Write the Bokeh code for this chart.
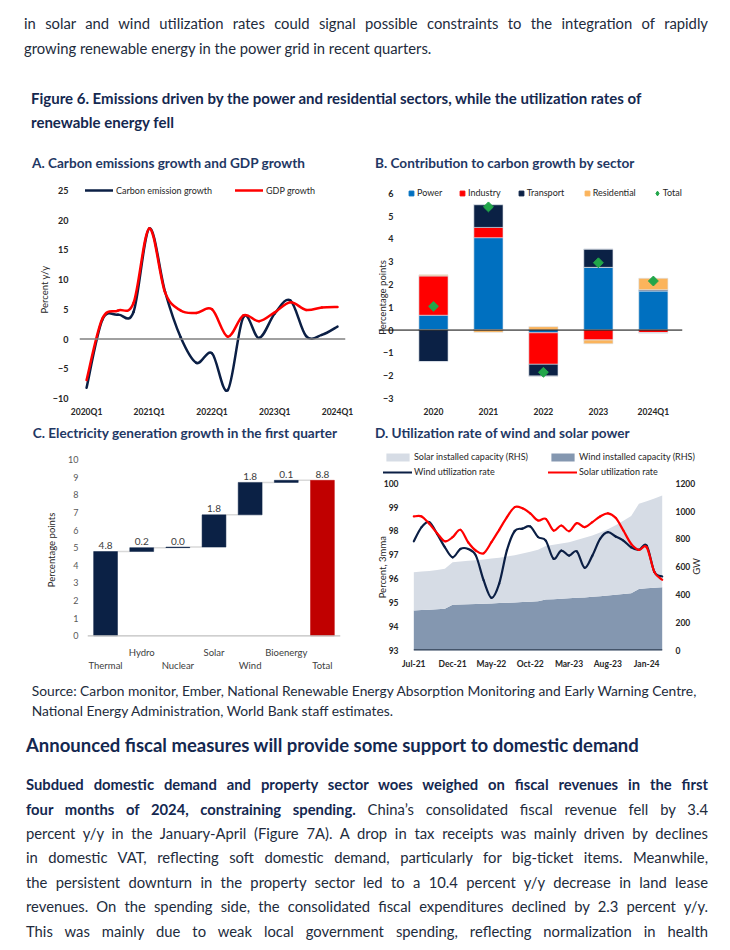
import math
from bokeh.plotting import figure
from bokeh.models import (ColumnDataSource, Span, Legend, LegendItem, Label,
                          FixedTicker, LinearAxis, Range1d, Div)
from bokeh.layouts import column, row
from bokeh.embed import file_html
from bokeh.resources import INLINE
from bokeh.core.properties import value

FONT = "Lato"
TITLE_BLUE = "#1F3864"
TEXT_DARK = "#262626"
NAVY = "#0B1F45"
RED = "#FF0000"

# ---------------- Panel A data (percent y/y)
quarters = ["2020Q1", "2020Q2", "2020Q3", "2020Q4", "2021Q1", "2021Q2", "2021Q3", "2021Q4",
            "2022Q1", "2022Q2", "2022Q3", "2022Q4", "2023Q1", "2023Q2", "2023Q3", "2023Q4", "2024Q1"]
carbon_growth = [-8.2, 3.2, 4.1, 4.6, 18.6, 8.0, 0.3, -4.0, -2.4, -8.6, 3.7, 0.2, 4.3, 6.5, 0.5, 0.7, 2.1]
gdp_growth = [-6.9, 3.4, 4.8, 6.1, 18.6, 7.9, 4.8, 4.4, 5.0, 0.4, 4.0, 3.0, 4.5, 6.2, 4.9, 5.3, 5.4]

# ---------------- Panel B data (percentage points)
years_B = ["2020", "2021", "2022", "2023", "2024Q1"]
power_B = [0.65, 4.05, -0.12, 2.75, 1.72]
industry_B = [1.73, 0.45, -1.38, -0.44, -0.12]
transport_B = [-1.38, 1.00, -0.52, 0.80, 0.05]
residential_B = [0.04, -0.10, 0.15, -0.16, 0.50]
total_B = [1.04, 5.40, -1.85, 2.95, 2.15]
sectors_B = ["Power", "Industry", "Transport", "Residential"]
sector_colors_B = ["#0070C0", "#FF0000", "#0B2145", "#FBB45C"]

# ---------------- Panel C data (percentage points)
sources_C = ["Thermal", "Hydro", "Nuclear", "Solar", "Wind", "Bioenergy"]
growth_C = [4.78, 0.22, 0.03, 1.83, 1.84, 0.12]
total_name_C = "Total"
total_C = 8.82

# ---------------- Panel D data
months_D = ["Jul-21", "Aug-21", "Sep-21", "Oct-21", "Nov-21", "Dec-21",
            "Jan-22", "Feb-22", "Mar-22", "Apr-22", "May-22", "Jun-22", "Jul-22", "Aug-22",
            "Sep-22", "Oct-22", "Nov-22", "Dec-22",
            "Jan-23", "Feb-23", "Mar-23", "Apr-23", "May-23", "Jun-23", "Jul-23", "Aug-23",
            "Sep-23", "Oct-23", "Nov-23", "Dec-23", "Jan-24", "Feb-24", "Mar-24"]
wind_util_D = [97.57, 98.16, 98.37, 97.88, 97.32, 96.90, 97.25, 97.25, 96.97, 95.93, 95.20,
               95.80, 97.20, 98.00, 98.10, 98.19, 97.75, 97.60, 96.84, 97.18, 96.97, 97.15,
               96.46, 96.97, 97.67, 97.95, 97.77, 97.60, 97.32, 97.21, 97.39, 96.28, 96.10]
solar_util_D = [98.61, 98.61, 98.30, 97.91, 97.57, 97.74, 98.05, 97.53, 97.18, 97.07, 97.53,
                98.05, 98.58, 99.00, 98.95, 98.74, 98.44, 98.51, 98.02, 98.23, 97.99, 98.33,
                98.16, 98.37, 98.61, 98.74, 98.55, 98.02, 97.46, 97.21, 97.32, 96.28, 95.96]
wind_cap_D = [287, 290, 293, 296, 299, 328, 330, 332, 334, 336, 338, 340, 342, 344, 347, 350,
              354, 365, 368, 371, 375, 378, 381, 386, 390, 395, 400, 405, 411, 442, 446, 450, 454]
solar_cap_D = [274, 276, 278, 282, 287, 305, 308, 311, 314, 317, 321, 326, 332, 340, 348, 358,
               368, 385, 390, 396, 402, 414, 427, 439, 456, 475, 498, 525, 554, 610, 624, 640, 657]

# ---------------- Page texts
top_para_lines = [
    "in solar and wind utilization rates could signal possible constraints to the integration of rapidly",
    "growing renewable energy in the power grid in recent quarters.",
]
figure_title_lines = [
    "Figure 6. Emissions driven by the power and residential sectors, while the utilization rates of",
    "renewable energy fell",
]
source_lines = [
    "Source: Carbon monitor, Ember, National Renewable Energy Absorption Monitoring and Early Warning Centre,",
    "National Energy Administration, World Bank staff estimates.",
]
heading_text = "Announced fiscal measures will provide some support to domestic demand"
body_lines = [
    ("Subdued domestic demand and property sector woes weighed on fiscal revenues in the first", ""),
    ("four months of 2024, constraining spending.", " China\u2019s consolidated fiscal revenue fell by 3.4"),
    ("", "percent y/y in the January-April (Figure 7A). A drop in tax receipts was mainly driven by declines"),
    ("", "in domestic VAT, reflecting soft domestic demand, particularly for big-ticket items. Meanwhile,"),
    ("", "the persistent downturn in the property sector led to a 10.4 percent y/y decrease in land lease"),
    ("", "revenues. On the spending side, the consolidated fiscal expenditures declined by 2.3 percent y/y."),
    ("", "This was mainly due to weak local government spending, reflecting normalization in health"),
]
panel_titles = ["A. Carbon emissions growth and GDP growth",
                "B. Contribution to carbon growth by sector",
                "C. Electricity generation growth in the first quarter",
                "D. Utilization rate of wind and solar power"]


# ---------------- helpers
def make_fig(w, h, xr, yr, lb, rb, tb, bb):
    p = figure(width=w, height=h, x_range=xr, y_range=yr, output_backend="svg",
               toolbar_location=None, tools="",
               min_border_left=lb, min_border_right=rb, min_border_top=tb, min_border_bottom=bb)
    p.outline_line_color = None
    p.xgrid.visible = False
    p.ygrid.visible = False
    p.background_fill_color = "white"
    p.border_fill_color = "white"
    return p


def style_axis(ax, size, color, bold, standoff, line_color=None, line_width=1):
    ax.axis_line_color = line_color
    ax.axis_line_width = line_width
    ax.major_tick_line_color = None
    ax.minor_tick_line_color = None
    ax.major_tick_out = 0
    ax.major_tick_in = 0
    ax.minor_tick_out = 0
    ax.minor_tick_in = 0
    ax.major_label_standoff = standoff
    ax.major_label_text_font = FONT
    ax.major_label_text_font_size = f"{size}px"
    ax.major_label_text_color = color
    ax.major_label_text_font_style = "bold" if bold else "normal"
    ax.axis_label_text_font = FONT
    ax.axis_label_text_font_size = "9.5px"
    ax.axis_label_text_font_style = "normal"
    ax.axis_label_text_color = TEXT_DARK


def add_label(p, text, x, y, size, color, bold=False, angle=0.0, align="left"):
    p.add_layout(Label(x=x, y=y, x_units="screen", y_units="screen", text=text,
                       text_font=FONT, text_font_size=f"{size}px", text_color=color,
                       text_font_style="bold" if bold else "normal",
                       text_align=align, text_baseline="middle", angle=angle))


def add_legend(p, label, renderers, x, y, gw, gh, standoff, size, color=TEXT_DARK):
    leg = Legend(items=[LegendItem(label=label, renderers=renderers)], location=(x, y),
                 orientation="horizontal", padding=0, margin=0, spacing=0,
                 glyph_width=gw, glyph_height=gh, label_height=gh, label_standoff=standoff,
                 label_text_font=FONT, label_text_font_size=f"{size}px",
                 label_text_color=color, border_line_color=None, background_fill_alpha=0)
    p.add_layout(leg)


def bezier_source(xs, ys):
    n = len(xs)
    d = dict(x0=[], y0=[], x1=[], y1=[], cx0=[], cy0=[], cx1=[], cy1=[])
    for i in range(n - 1):
        xa, ya = (xs[i - 1], ys[i - 1]) if i > 0 else (xs[i], ys[i])
        xb, yb = (xs[i + 2], ys[i + 2]) if i + 2 < n else (xs[i + 1], ys[i + 1])
        d["x0"].append(xs[i]); d["y0"].append(ys[i])
        d["x1"].append(xs[i + 1]); d["y1"].append(ys[i + 1])
        d["cx0"].append(xs[i] + (xs[i + 1] - xa) / 6.0)
        d["cy0"].append(ys[i] + (ys[i + 1] - ya) / 6.0)
        d["cx1"].append(xs[i + 1] - (xb - xs[i]) / 6.0)
        d["cy1"].append(ys[i + 1] - (yb - ys[i]) / 6.0)
    return ColumnDataSource(d)


def smooth_line(p, xs, ys, color, width, **kw):
    return p.bezier(x0="x0", y0="y0", x1="x1", y1="y1", cx0="cx0", cy0="cy0",
                    cx1="cx1", cy1="cy1", source=bezier_source(xs, ys),
                    line_color=color, line_width=width, line_cap="round", **kw)


# ================= Panel A =================
xA = list(range(len(quarters)))
pA = make_fig(357, 242, (-0.45, 16.51), (-10, 26.68), 71, 20, 2, 22)
style_axis(pA.xaxis[0], 8.5, TEXT_DARK, True, 8)
style_axis(pA.yaxis[0], 9, TEXT_DARK, True, 11)
pA.xaxis.ticker = FixedTicker(ticks=xA[::4])
pA.xaxis.major_label_overrides = {i: quarters[i] for i in xA[::4]}
pA.yaxis.ticker = FixedTicker(ticks=list(range(-10, 26, 5)))
pA.yaxis.axis_label = "Percent y/y"
pA.yaxis.axis_label_standoff = 0
pA.add_layout(Span(location=0, dimension="width", line_color="#808080", line_width=1.5))
rA1 = smooth_line(pA, xA, carbon_growth, NAVY, 2.5)
rA2 = smooth_line(pA, xA, gdp_growth, RED, 2.5)
add_legend(pA, "Carbon emission growth", [rA1], 6, 202, 28, 12, 3, 9)
add_legend(pA, "GDP growth", [rA2], 156, 202, 28, 12, 3, 9)

# ================= Panel B =================
xB = list(range(len(years_B)))
pB = make_fig(357, 242, (-1.0, 4.53), (-3, 6.557), 13, 40, 2, 22)
style_axis(pB.xaxis[0], 8.5, TEXT_DARK, True, 8)
style_axis(pB.yaxis[0], 9, TEXT_DARK, True, -15)
pB.xaxis.ticker = FixedTicker(ticks=xB)
pB.xaxis.major_label_overrides = {i: years_B[i] for i in xB}
pB.yaxis.ticker = FixedTicker(ticks=list(range(-3, 7)))
series_B = [power_B, industry_B, transport_B, residential_B]
dB = dict(x=xB)
for name, vals in zip(sectors_B, series_B):
    dB[name + "_pos"] = [max(v, 0.0) for v in vals]
    dB[name + "_neg"] = [min(v, 0.0) for v in vals]
srcB = ColumnDataSource(dB)
pB.vbar_stack([s + "_pos" for s in sectors_B], x="x", width=0.53, color=sector_colors_B,
              source=srcB, line_color="#DDE3EA", line_width=0.6)
pB.vbar_stack([s + "_neg" for s in sectors_B], x="x", width=0.53, color=sector_colors_B,
              source=srcB, line_color="#DDE3EA", line_width=0.6)
pB.add_layout(Span(location=0, dimension="width", line_color="black", line_width=1))
GREEN = "#22A64A"
pB.scatter(x=xB, y=total_B, marker="square", angle=math.pi / 4, size=7,
           fill_color=GREEN, line_color=GREEN)
leg_x_B = [27, 78, 136.7, 202.7]
for name, col, lx in zip(sectors_B, sector_colors_B, leg_x_B):
    dummy = pB.scatter(x=[float("nan")], y=[float("nan")], marker="square", size=5,
                       fill_color=col, line_color=col)
    add_legend(pB, name, [dummy], lx, 199.3, 12, 12, -1, 9)
dummy_t = pB.scatter(x=[float("nan")], y=[float("nan")], marker="diamond", size=6,
                     fill_color=GREEN, line_color=GREEN)
add_legend(pB, "Total", [dummy_t], 272.7, 199.3, 12, 12, -1, 9)
add_label(pB, "Percentage points", 3.7, 101, 9.5, TEXT_DARK, angle=math.pi / 2, align="center")

# ================= Panel C =================
names_C = sources_C + [total_name_C]
xC = list(range(len(names_C)))
bottoms_C, tops_C = [], []
run = 0.0
for v in growth_C:
    bottoms_C.append(run)
    run += v
    tops_C.append(run)
bottoms_C.append(0.0)
tops_C.append(total_C)
colors_C = ["#0B2145"] * len(sources_C) + ["#C00000"]
labels_C = [f"{v:.1f}" for v in growth_C] + [f"{total_C:.1f}"]
srcC = ColumnDataSource(dict(x=xC, bottom=bottoms_C, top=tops_C, color=colors_C, label=labels_C))

pC = make_fig(357, 233, (-0.5, 6.5), (-0.834, 10.567), 79, 25, 2, 30)
style_axis(pC.xaxis[0], 9.5, "#404040", False, -4)
style_axis(pC.yaxis[0], 9, "#595959", False, 9)
pC.yaxis.ticker = FixedTicker(ticks=list(range(0, 11)))
pC.yaxis.axis_label = "Percentage points"
pC.yaxis.axis_label_standoff = 8
upper = [i for i in xC if i % 2 == 1]
lower = [i for i in xC if i % 2 == 0]
pC.xaxis.ticker = FixedTicker(ticks=upper)
pC.xaxis.major_label_overrides = {i: names_C[i] for i in upper}
axC2 = LinearAxis(ticker=FixedTicker(ticks=lower),
                  major_label_overrides={i: names_C[i] for i in lower})
style_axis(axC2, 9.5, "#404040", False, -1)
pC.add_layout(axC2, "below")
pC.add_layout(Span(location=0, dimension="width", line_color="#BFBFBF", line_width=1.2))
conn = ColumnDataSource(dict(x0=[i + 0.33 for i in xC[:-1]], x1=[i + 0.67 for i in xC[:-1]],
                             y=tops_C[:-1]))
pC.segment(x0="x0", y0="y", x1="x1", y1="y", source=conn, line_color="#D9D9D9", line_width=1.5)
pC.vbar(x="x", bottom="bottom", top="top", width=0.66, fill_color="color", line_color="color",
        line_width=0.5, source=srcC)
pC.text(x="x", y="top", text="label", source=srcC, text_font=value(FONT),
        text_font_size=value("10px"), text_color="#404040", text_align="center",
        text_baseline="middle", y_offset=-6)

# ================= Panel D =================
xD = list(range(len(months_D)))
pD = make_fig(357, 233, (-5.065, 38.48), (93, 101.41), 9, 10, 2, 30)
pD.extra_y_ranges = {"gw": Range1d(0, 1441.7)}
style_axis(pD.xaxis[0], 8.5, TEXT_DARK, True, 8)
style_axis(pD.yaxis[0], 8.5, TEXT_DARK, True, -24)
pD.xaxis.ticker = FixedTicker(ticks=xD[::5])
pD.xaxis.major_label_overrides = {i: months_D[i] for i in xD[::5]}
pD.yaxis.ticker = FixedTicker(ticks=list(range(93, 101)))
axD2 = LinearAxis(y_range_name="gw", ticker=FixedTicker(ticks=list(range(0, 1201, 200))))
style_axis(axD2, 8.5, TEXT_DARK, True, -37)
pD.add_layout(axD2, "right")
srcD = ColumnDataSource(dict(x=xD, wind_cap=wind_cap_D, solar_cap=solar_cap_D))
areas = pD.varea_stack(["wind_cap", "solar_cap"], x="x", color=["#8497B0", "#D6DCE5"],
                       source=srcD, y_range_name="gw")
pD.segment(x0=[xD[0]], y0=[0], x1=[xD[-1]], y1=[0], y_range_name="gw",
           line_color="#44546A", line_width=3)
rD1 = smooth_line(pD, xD, wind_util_D, NAVY, 2.2)
rD2 = smooth_line(pD, xD, solar_util_D, RED, 2.2)
add_legend(pD, "Solar installed capacity (RHS)", [areas[1]], 9, 187.8, 29, 10, 2, 9)
add_legend(pD, "Wind installed capacity (RHS)", [areas[0]], 174, 187.8, 29, 10, 2, 9)
add_legend(pD, "Wind utilization rate", [rD1], 9, 172.8, 29, 10, 2, 9)
add_legend(pD, "Solar utilization rate", [rD2], 174, 172.8, 29, 10, 2, 9)
add_label(pD, "Percent, 3mma", 7.7, 83.3, 9.5, TEXT_DARK, angle=math.pi / 2, align="center")
add_label(pD, "GW", 322, 84, 9.5, TEXT_DARK, angle=math.pi / 2, align="center")

# ================= Page text =================
BODY = "#222B3C"
BOLD = "#142850"


def line_div(content, yc, left, width, size, color, weight="normal", justify=False):
    lh = round(size * 1.4)
    top = yc - lh / 2 - 0.087 * size
    extra = "text-align:justify;text-align-last:justify;" if justify else "white-space:nowrap;"
    return (f'<div style="position:absolute;left:{left}px;top:{top:.1f}px;width:{width}px;'
            f'line-height:{lh}px;font-family:{FONT},sans-serif;font-size:{size}px;'
            f'font-weight:{weight};color:{color};{extra}">{content}</div>')


def block(parts, h):
    return Div(text=f'<div style="position:relative;width:714px;height:{h}px;">' + "".join(parts) + "</div>",
               width=714, height=h, margin=(0, 0, 0, 0), disable_math=True)


top_div = block([
    line_div(top_para_lines[0], 17, 16, 684, 14.8, BODY, justify=True),
    line_div(top_para_lines[1], 42, 16, 684, 14.8, BODY),
    line_div(figure_title_lines[0], 92, 23, 690, 15, BOLD, weight="bold"),
    line_div(figure_title_lines[1], 116, 23, 690, 15, BOLD, weight="bold"),
], 142)

titles_ab = block([
    line_div(panel_titles[0], 15, 24, 330, 13.6, TITLE_BLUE, weight="bold"),
    line_div(panel_titles[1], 15, 367, 340, 13.6, TITLE_BLUE, weight="bold"),
], 28)

titles_cd = block([
    line_div(panel_titles[2], 15, 24.7, 340, 13.6, TITLE_BLUE, weight="bold"),
    line_div(panel_titles[3], 15, 367, 340, 13.6, TITLE_BLUE, weight="bold"),
], 27)

bot_parts = [
    line_div(source_lines[0], 11.7, 23.7, 690, 13.8, BODY),
    line_div(source_lines[1], 31.7, 23.7, 690, 13.8, BODY),
    line_div(heading_text, 66.7, 18, 690, 18.5, BOLD, weight="bold"),
]
for k, (b, t) in enumerate(body_lines):
    html = (f'<b style="color:{BOLD};">{b}</b>' if b else "") + t
    bot_parts.append(line_div(html, 106 + 24.4 * k, 18, 682, 14.8, BODY, justify=True))
bottom_div = block(bot_parts, 262)

page = column(top_div, titles_ab, row(pA, pB), titles_cd, row(pC, pD), bottom_div,
              margin=(8, 8, 8, 8))
open("out.html", "w").write(file_html(page, INLINE, title="Figure 6"))
